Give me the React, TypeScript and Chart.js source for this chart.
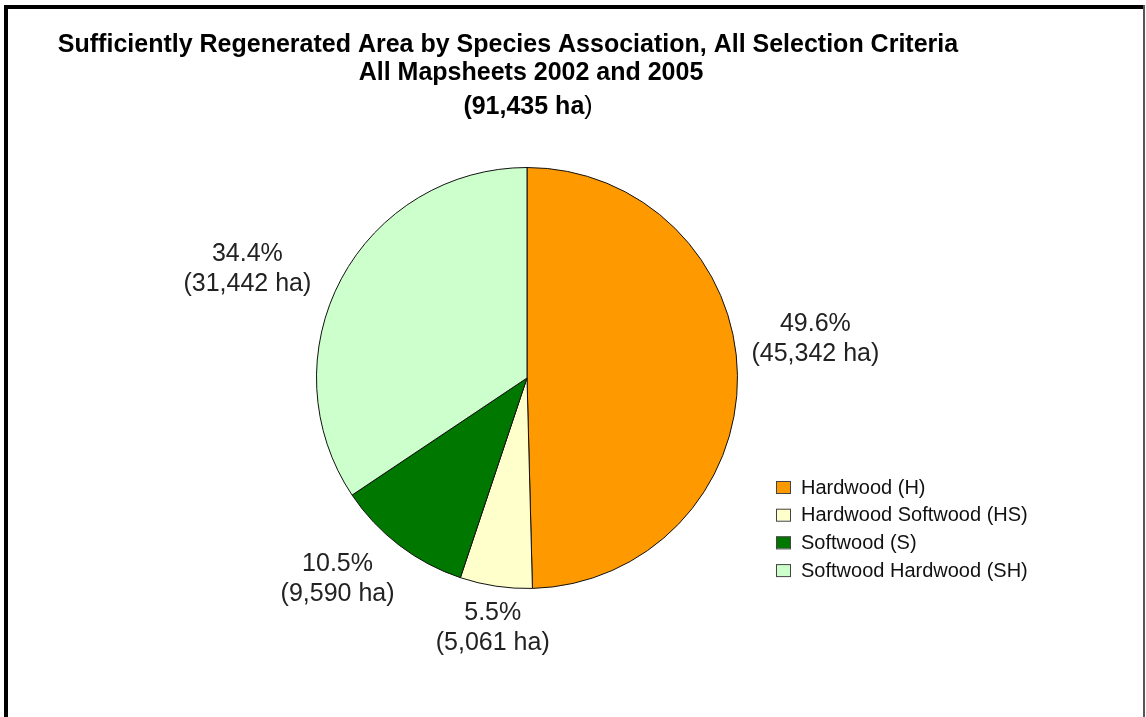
import React, { useEffect, useRef } from "react";
import { Chart, registerables } from "chart.js";

Chart.register(...registerables);

const categories = ["Hardwood (H)", "Hardwood Softwood (HS)", "Softwood (S)", "Softwood Hardwood (SH)"];
const areaHa = [45342, 5061, 9590, 31442];
const percentLabels = ["49.6%", "5.5%", "10.5%", "34.4%"];
const haLabels = ["(45,342 ha)", "(5,061 ha)", "(9,590 ha)", "(31,442 ha)"];
const sliceColors = ["#FF9900", "#FFFFCC", "#007800", "#CCFFCC"];
const titleLines = [
  "Sufficiently Regenerated Area by Species Association, All Selection Criteria",
  "All Mapsheets 2002 and 2005",
  "(91,435 ha",
];

// label nudges (px) relative to generic outside placement
const labelNudge: [number, number][] = [
  [2, -36],
  [7, 5],
  [-20, 4],
  [-27, 8],
];

const FONT = '"Liberation Sans", Arial, sans-serif';

const overlayPlugin = {
  id: "overlay",
  afterDraw(chart: any) {
    const ctx = chart.ctx as CanvasRenderingContext2D;
    const meta = chart.getDatasetMeta(0);
    ctx.save();
    // title
    ctx.fillStyle = "#000";
    ctx.textAlign = "center";
    ctx.textBaseline = "middle";
    ctx.font = `bold 25px ${FONT}`;
    ctx.fillText(titleLines[0], 508, 45);
    ctx.fillText(titleLines[1], 531, 73);
    // third line: bold text followed by a regular ")"
    const t3 = titleLines[2];
    const w3 = ctx.measureText(t3).width;
    ctx.font = `25px ${FONT}`;
    const wp = ctx.measureText(")").width;
    const start3 = 528 - (w3 + wp) / 2;
    ctx.textAlign = "left";
    ctx.font = `bold 25px ${FONT}`;
    ctx.fillText(t3, start3, 107);
    ctx.font = `25px ${FONT}`;
    ctx.fillText(")", start3 + w3, 107);

    // slice labels
    ctx.textAlign = "center";
    ctx.font = `25px ${FONT}`;
    ctx.fillStyle = "#222";
    meta.data.forEach((arc: any, i: number) => {
      const { x, y, startAngle, endAngle, outerRadius } = arc.getProps(
        ["x", "y", "startAngle", "endAngle", "outerRadius"],
        true
      );
      const mid = (startAngle + endAngle) / 2;
      const dx = Math.cos(mid);
      const dy = Math.sin(mid);
      const w = Math.max(ctx.measureText(percentLabels[i]).width, ctx.measureText(haLabels[i]).width);
      const h = 50;
      const ax = x + dx * (outerRadius + 12);
      const ay = y + dy * (outerRadius + 12);
      const cx = ax + (dx * w) / 2 + labelNudge[i][0];
      const cy = ay + (dy * h) / 2 + labelNudge[i][1];
      ctx.fillText(percentLabels[i], cx, cy - 15);
      ctx.fillText(haLabels[i], cx, cy + 15);
    });

    // legend
    ctx.textAlign = "left";
    ctx.font = `20px ${FONT}`;
    const lx = 776;
    const ly = 487;
    const step = 27.7;
    categories.forEach((c, i) => {
      const yy = ly + i * step;
      ctx.fillStyle = sliceColors[i];
      ctx.fillRect(lx, yy - 6, 15, 12);
      ctx.strokeStyle = "#444";
      ctx.lineWidth = 1;
      ctx.strokeRect(lx + 0.5, yy - 5.5, 14, 12);
      ctx.fillStyle = "#111";
      ctx.fillText(c, lx + 25, yy + 1);
    });
    ctx.restore();
  },
};

export default function App() {
  const ref = useRef<HTMLCanvasElement>(null);
  useEffect(() => {
    if (!ref.current) return;
    const chart = new Chart(ref.current, {
      type: "pie",
      data: {
        labels: categories,
        datasets: [
          {
            data: areaHa,
            backgroundColor: sliceColors,
            borderColor: "#111",
            borderWidth: 1,
          },
        ],
      },
      options: {
        responsive: false,
        animation: false,
        layout: { padding: { left: 316, right: 408, top: 167, bottom: 128 } },
        plugins: {
          legend: { display: false },
          title: { display: false },
          tooltip: { enabled: false },
        },
      },
      plugins: [overlayPlugin],
    });
    return () => chart.destroy();
  }, []);

  return (
    <div style={{ position: "fixed", left: 0, top: 0, width: 1146, height: 717, background: "#fff", overflow: "hidden" }}>
      <canvas ref={ref} width={1146} height={717} style={{ position: "absolute", left: 0, top: 0 }} />
      <div style={{ position: "absolute", left: 4, top: 5, width: 1141, height: 4, background: "#000" }} />
      <div style={{ position: "absolute", left: 4, top: 5, width: 4, height: 712, background: "#000" }} />
      <div style={{ position: "absolute", left: 1143, top: 5, width: 2, height: 712, background: "#555" }} />
    </div>
  );
}
